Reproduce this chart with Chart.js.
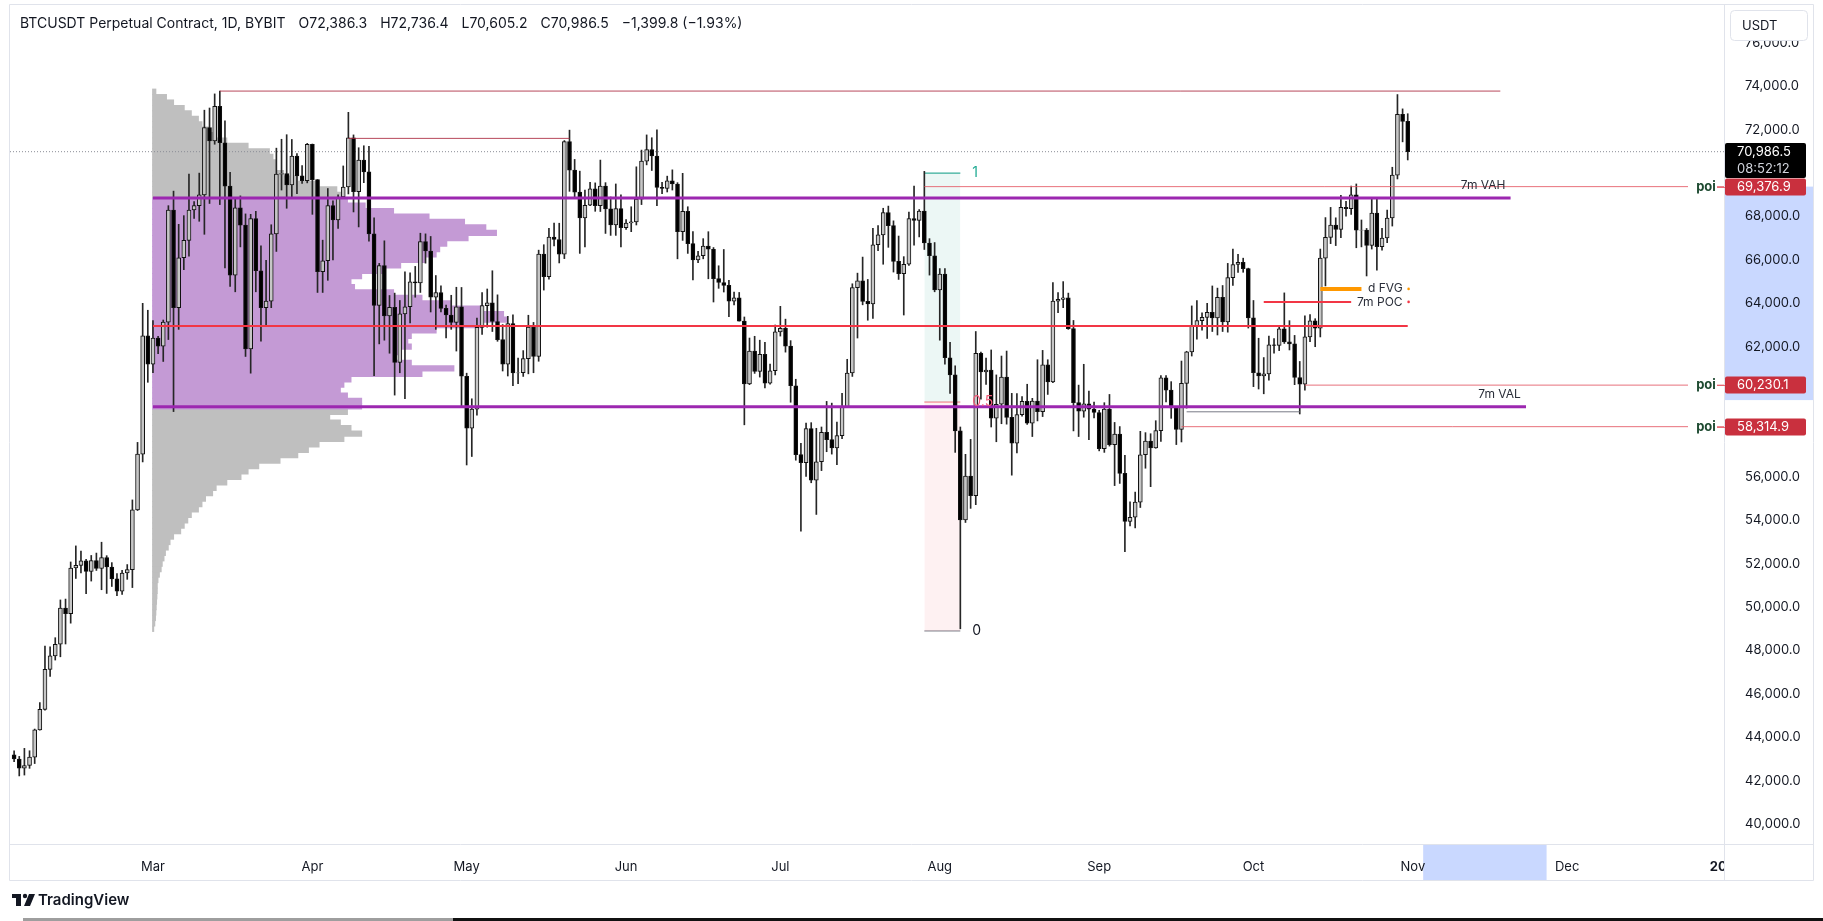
<!DOCTYPE html>
<html lang="en">
<head>
<meta charset="UTF-8" />
<title>BTCUSDT Perpetual Contract, 1D, BYBIT</title>
<script src="https://cdn.jsdelivr.net/npm/chart.js"></script>
<style>
  html, body { margin: 0; padding: 0; background: #fff; }
  canvas { display: block; }
</style>
</head>
<body>
<canvas id="btcChart" width="1823" height="921"></canvas>
<script>
// daily candles, the first one is 2024-02-03 (one row per month)
const firstCandle = '2024-02-03';
const opens = [
  43190,43000,42580,42700,43090,44340,45290,47130,47750,48290,49960,49700,51800,51920,52130,51640,52140,51780,52280,51850,51300,50740,51570,51730,54480,57050,62500,
  61200,62400,62030,63130,68300,63800,66100,66900,68300,68500,69000,72100,71480,73080,71400,69400,65300,68400,67600,61900,67900,65500,63800,64100,67200,69950,69980,69450,70780,69870,69650,
  71330,69700,65460,65960,68500,67840,68900,69360,71620,69140,70600,70060,67200,63900,65740,63420,63810,61280,63510,63840,64990,64940,66840,66410,64280,64500,63770,63460,63120,63840,
  60640,58250,59120,62890,63890,64020,63160,62330,61190,63070,60790,60800,61450,62900,61550,66270,65230,67050,66940,66270,71450,70140,69120,67930,68520,69280,68500,69400,68350,67610,68360,
  67490,67700,67750,68800,70550,71080,70790,69340,69300,69640,69500,67300,68240,66750,66000,66190,66640,66490,65140,64960,64830,64100,64250,63180,60280,61800,60860,61650,60320,60890,
  62680,62850,62030,60200,57030,56660,58230,55850,56700,58050,57720,57340,57900,59230,60790,64720,65040,64090,63970,66700,67150,68180,67580,65930,65370,65800,67910,67820,68250,66780,66190,
  64620,65350,61490,60700,58120,54020,56040,55130,61690,60840,60920,58710,59350,60600,58740,57560,58870,59480,58480,59490,59010,61160,60380,64100,64180,64250,62830,59420,59030,59370,59120,
  58970,57300,59130,57480,57970,56160,53950,54140,54840,57020,57650,57340,58130,60570,60000,59180,58190,60310,61760,62950,63200,63350,63580,63330,64270,63140,65180,65790,65890,65600,
  63330,60800,60650,60750,62090,62060,62820,62220,62130,60580,60270,62450,63190,62850,66080,67040,67610,67400,68420,68360,69000,67370,67380,66670,68160,66610,67010,67930,69910,72710,72386.3
];
const highs = [
  43380,43120,43490,43380,44380,45600,48200,48170,48590,50330,50370,52080,52820,52580,52200,52380,52490,52990,52370,52050,51550,51700,51960,54940,57590,64000,63680,
  63200,62480,63230,68500,69170,67640,68040,69960,68690,70000,72900,73000,73650,73780,72410,70040,68880,68950,68120,68100,68240,66650,65980,67620,71150,71560,71770,71550,70900,70350,71370,
  71340,69700,66910,69290,68720,69000,70330,72800,71760,71170,71260,71230,67940,65840,66880,64360,64470,64130,65450,65400,65700,67230,67200,67080,65280,64800,63920,64370,64740,64730,
  60780,59600,63320,64500,64660,65500,64390,63020,63400,63470,61480,61820,63450,63120,66450,66700,67450,67700,67690,71500,71980,70630,70090,69220,69580,69550,70600,69560,68900,69500,69000,
  67860,68450,70290,71060,71760,71630,72000,69580,69860,70150,69560,69990,68450,67300,66400,66980,67300,66570,65730,66480,65060,64520,64500,63370,62400,62480,62300,62200,61200,63000,
  63860,63270,62280,60500,57550,58480,58500,58240,58300,59480,59400,58530,59850,61420,64900,65390,66130,65100,67450,67580,68380,68480,67800,67100,66150,68200,69400,68320,70080,66980,66800,
  65600,65600,62200,61120,58300,57040,57730,62700,61750,61480,61850,60700,61570,61800,59850,59840,59700,60270,59620,61400,61830,61400,64950,64500,65000,64470,63210,60230,61190,59950,59450,
  59070,59420,59800,58510,58320,56990,54850,55300,58100,58040,57990,58590,60670,60670,60390,59210,61340,61790,63880,64130,63560,64000,64800,64700,64820,65840,66500,66260,66080,65620,
  64130,62390,61500,62490,62370,62980,64480,63200,62520,61320,63420,63480,63290,66500,67950,68420,67940,68980,68700,69400,69500,67840,67450,68850,68800,67450,68300,70270,73620,72960,72736.4
];
const lows = [
  42880,42220,42260,42570,42790,44330,45250,46800,47560,47710,48300,49260,51320,51570,50620,51200,51690,50800,50630,50950,50530,50580,51280,50900,54450,56690,60360,
  60800,61680,61320,62330,59010,62800,65550,66170,67910,67780,67180,68600,71330,68550,65630,64780,64530,66600,61550,60780,64530,62260,63000,63800,66390,69220,68380,68900,69050,69520,69550,
  68100,64500,64500,65060,66000,67450,68830,69040,68210,67520,69560,66860,60660,62130,62300,61700,59770,60800,59600,63100,64280,64500,65850,63600,62800,63600,62400,62800,61800,59190,
  56550,56940,58850,62570,62900,62700,62250,60880,60650,60200,60300,60630,60750,60800,61330,64610,65110,66650,65860,66060,69160,68900,66300,66600,68500,68240,68230,67220,67130,67130,66600,
  67400,67300,67610,68550,70380,70120,68500,69050,69130,69220,66050,66900,66300,65080,65870,66050,65130,64060,64690,64520,63380,63920,63180,58400,60250,60770,60600,60100,60270,60700,
  62490,61750,59440,56770,53500,56020,55730,54270,56290,57160,57050,56560,57760,59200,60630,62400,63930,63220,63300,66430,65800,66580,65440,65100,63460,65750,66680,67060,66480,65300,64530,
  62300,61200,59850,57130,49000,53900,54550,54720,59580,60260,58300,57620,58450,58430,56080,57100,58800,58420,57860,58580,58780,59800,60340,63570,63800,62800,58120,57860,58750,57720,58720,
  57200,57130,57420,55600,55700,52550,53740,53650,54590,56400,55550,57320,57630,59450,58700,57490,57610,59170,61570,62350,62760,62380,62700,62540,62700,62670,64830,65420,65430,62860,
  60160,60050,59830,60460,61700,61820,62150,61850,60250,58900,60000,62230,62000,62450,64800,66750,66660,67030,68020,68100,66560,66600,65260,66500,65530,66450,66800,67560,69730,71440,70605.2
];
const closes = [
  43000,42580,42700,43090,44340,45290,47130,47750,48290,49960,49700,51800,51920,52130,51640,52140,51780,52280,51850,51300,50740,51570,51730,54480,57050,62500,61200,
  62400,62030,63130,68300,63800,66100,66900,68300,68500,69000,72100,71480,73080,71400,69400,65300,68400,67600,61900,67900,65500,63800,64100,67200,69950,69980,69450,70780,69870,69650,71330,
  69700,65460,65960,68500,67840,68900,69360,71620,69140,70600,70060,67200,63900,65740,63420,63810,61280,63510,63840,64990,64940,66840,66410,64280,64500,63770,63460,63120,63840,60640,
  58250,59120,62890,63890,64020,63160,62330,61190,63070,60790,60800,61450,62900,61550,66270,65230,67050,66940,66270,71450,70140,69120,67930,68520,69280,68500,69400,68350,67610,68360,67490,
  67700,67750,68800,70550,71080,70790,69340,69300,69640,69500,67300,68240,66750,66000,66190,66640,66490,65140,64960,64830,64100,64250,63180,60280,61800,60860,61650,60320,60890,62680,
  62850,62030,60200,57030,56660,58230,55850,56700,58050,57720,57340,57900,59230,60790,64720,65040,64090,63970,66700,67150,68180,67580,65930,65370,65800,67910,67820,68250,66780,66190,64620,
  65350,61490,60700,58120,54020,56040,55130,61690,60840,60920,58710,59350,60600,58740,57560,58870,59480,58480,59490,59010,61160,60380,64100,64180,64250,62830,59420,59030,59370,59120,58970,
  57300,59130,57480,57970,56160,53950,54140,54840,57020,57650,57340,58130,60570,60000,59180,58190,60310,61760,62950,63200,63350,63580,63330,64270,63140,65180,65790,65890,65600,63330,
  60800,60650,60750,62090,62060,62820,62220,62130,60580,60270,62450,63190,62850,66080,67040,67610,67400,68420,68360,69000,67370,67380,66670,68160,66610,67010,67930,69910,72710,72386.3,70986.5
];

// time axis
const monthDates = ['2024-03-01','2024-04-01','2024-05-01','2024-06-01','2024-07-01','2024-08-01','2024-09-01','2024-10-01','2024-11-01','2024-12-01','2025-01-01'];
const monthLabels = ['Mar','Apr','May','Jun','Jul','Aug','Sep','Oct','Nov','Dec','2025'];
const priceTicks = [40000,42000,44000,46000,48000,50000,52000,54000,56000,58000,60000,62000,64000,66000,68000,70000,72000,74000,76000];

// fixed range volume profile, anchored on 2024-03-01 (relative volume per 250 USD row)
const profileStart = '2024-03-01';
const profilePrices = [
  49000,49250,49500,49750,50000,50250,50500,50750,51000,51250,51500,51750,52000,52250,52500,52750,53000,53250,53500,53750,
  54000,54250,54500,54750,55000,55250,55500,55750,56000,56250,56500,56750,57000,57250,57500,57750,58000,58250,58500,58750,
  59000,59250,59500,59750,60000,60250,60500,60750,61000,61250,61500,61750,62000,62250,62500,62750,63000,63250,63500,63750,
  64000,64250,64500,64750,65000,65250,65500,65750,66000,66250,66500,66750,67000,67250,67500,67750,68000,68250,68500,68750,
  69000,69250,69500,69750,70000,70250,70500,70750,71000,71250,71500,71750,72000,72250,72500,72750,73000,73250,73500,73750
];
const profileVolumes = [
  0.4,0.7,0.9,1.0,1.1,1.2,1.3,1.4,1.4,1.6,2.0,2.5,2.8,3.3,3.7,4.5,5,6,8,9,
  10,11,13,14,15,17,18,21,25,27,30,36,41,44,47,54,59,56,53,50,
  55,59,59,55,53,54,56,76,85,73,68,70,73,72,73,80,93,100,99,93,
  84,76,68,57,56,59,65,70,77,80,81,83,89,97,94,88,78,68,60,55,
  54,52,47,41,37,35,35,34,33,27,21,17,16,14,13,11,9,6,4,1
];
const valueArea = { high: 68850, poc: 62950, low: 59230, from: '2024-03-01', highTo: '2024-11-20', pocTo: '2024-10-31', lowTo: '2024-11-23' };

const currentPrice = 70986.5;
const barCountdown = '08:52:12';
const headerParts = ['BTCUSDT Perpetual Contract, 1D, BYBIT', 'O72,386.3', 'H72,736.4', 'L70,605.2', 'C70,986.5', '\u22121,399.8 (\u22121.93%)'];

// points of interest
const poiPrices = [69376.9, 60230.1, 58314.9];
const poiFrom = ['2024-07-29', '2024-10-11', '2024-09-17'];
const poiNotes = ['7m VAH', '7m VAL', ''];
const poiNoteAt = ['2024-11-19', '2024-11-22', ''];

// swing highs, sweep low, short levels
const swingPrices = [73780, 71600];
const swingFrom = ['2024-03-14', '2024-04-08'];
const swingTo = ['2024-11-18', '2024-05-21'];
const sweepLevel = { price: 59000, from: '2024-09-18', to: '2024-10-10' };
const pocLevel = { price: 64065, from: '2024-10-03', to: '2024-10-20', label: '7m POC' };
const fvgLevel = { price: 64665, from: '2024-10-14', to: '2024-10-22', label: 'd FVG' };
const levelLabelAt = '2024-10-30';

// fib retracement Jul 29 high -> Aug 5 low
const fibLevels = [70000, 59450, 48900];
const fibLabels = ['1', '0.5', '0'];
const fibDates = ['2024-07-29', '2024-08-05'];

// selected range shown on the axes
const selectionPrices = [69376.9, 59540];
const selectionDates = ['2024-11-03', '2024-11-27'];

// ---------------------------------------------------------------
const dayOf = s => (Date.parse(s) - Date.parse('2024-03-01')) / 864e5;
const day0 = dayOf(firstCandle);
const days = opens.map((_, i) => day0 + i);
const isUp = closes.map((c, i) => c >= opens[i]);
const monthDays = monthDates.map(dayOf);
const daysPerUnit = 0.69;
const FONT = 'Inter, "Noto Sans", sans-serif';

Chart.defaults.font.family = FONT;

function hLine(price, from, to, color, width, extra) {
  return Object.assign({
    type: 'line',
    data: [{ x: from, y: price }, { x: to, y: price }],
    borderColor: color, borderWidth: width, pointRadius: 0, fill: false, order: 0
  }, extra || {});
}

const xMin = -27.8, xMax = 305.5;
const datasets = [
  // fib fills, drawn first
  hLine(fibLevels[0], dayOf(fibDates[0]), dayOf(fibDates[1]), '#089981', 1, { fill: '+1', backgroundColor: 'rgba(8,153,129,0.08)', order: 5 }),
  hLine(fibLevels[1], dayOf(fibDates[0]), dayOf(fibDates[1]), 'rgba(242,54,69,0.7)', 1, { fill: '+1', backgroundColor: 'rgba(242,54,69,0.07)', order: 5 }),
  hLine(fibLevels[2], dayOf(fibDates[0]), dayOf(fibDates[1]), '#787b86', 1, { order: 5 }),
  {
    type: 'bar', label: 'profile', indexAxis: 'y',
    data: profilePrices.map((p, i) => ({ y: p, x: [dayOf(profileStart) - 0.1, dayOf(profileStart) - 0.1 + profileVolumes[i] * daysPerUnit] })),
    backgroundColor: profilePrices.map(p => (p >= valueArea.low && p <= valueArea.high) ? '#c49ad5' : '#bfbfbf'),
    borderWidth: 0, barThickness: 5.6, grouped: false, order: 4
  },
  hLine(currentPrice, xMin, xMax, '#8a8d96', 1, { borderDash: [1, 2], order: 3 }),
  {
    type: 'bar', label: 'wicks',
    data: days.map((d, i) => ({ x: d, y: [lows[i], highs[i]] })),
    backgroundColor: '#262626', barThickness: 1, grouped: false, order: 2
  },
  {
    type: 'bar', label: 'bodies',
    data: days.map((d, i) => ({ x: d, y: [opens[i], closes[i]] })),
    backgroundColor: isUp.map(u => u ? '#c6c6c6' : '#000'),
    borderColor: '#111', borderWidth: 1, borderSkipped: false, barThickness: 4, grouped: false, order: 1
  },
  hLine(valueArea.high, dayOf(valueArea.from), dayOf(valueArea.highTo), '#9c27b0', 3),
  hLine(valueArea.low, dayOf(valueArea.from), dayOf(valueArea.lowTo), '#9c27b0', 3),
  hLine(valueArea.poc, dayOf(valueArea.from), dayOf(valueArea.pocTo), '#f23645', 2),
  ...swingPrices.map((p, i) => hLine(p, dayOf(swingFrom[i]), dayOf(swingTo[i]), 'rgba(170,40,62,0.85)', 1)),
  ...poiPrices.map((p, i) => hLine(p, dayOf(poiFrom[i]), xMax, 'rgba(228,88,100,0.85)', 1)),
  hLine(sweepLevel.price, dayOf(sweepLevel.from), dayOf(sweepLevel.to), '#787b86', 1),
  hLine(pocLevel.price, dayOf(pocLevel.from), dayOf(pocLevel.to), '#f23645', 2),
  hLine(fvgLevel.price, dayOf(fvgLevel.from), dayOf(fvgLevel.to), '#ff9800', 4)
];

function text(ctx, s, x, y, font, color, align) {
  ctx.font = font;
  ctx.fillStyle = color;
  ctx.textAlign = align || 'left';
  ctx.textBaseline = 'middle';
  ctx.fillText(s, x, y);
  return ctx.measureText(s).width;
}

const overlay = {
  id: 'overlay',
  beforeDraw(chart) {
    const { ctx, chartArea: a, scales: { x, y } } = chart;
    ctx.save();
    ctx.fillStyle = '#fff';
    ctx.fillRect(0, 0, chart.width, chart.height);
    ctx.fillStyle = 'rgba(41, 98, 255, 0.25)';
    const y1 = y.getPixelForValue(selectionPrices[0]), y2 = y.getPixelForValue(selectionPrices[1]);
    ctx.fillRect(a.right + 1, y1, 89, y2 - y1);
    const x1 = x.getPixelForValue(dayOf(selectionDates[0])), x2 = x.getPixelForValue(dayOf(selectionDates[1]));
    ctx.fillRect(x1, a.bottom + 1, x2 - x1, 35);
    ctx.restore();
  },
  afterDraw(chart) {
    const { ctx, chartArea: a, scales: { x, y } } = chart;
    ctx.save();
    // clip the time axis at the price scale
    ctx.fillStyle = '#fff';
    ctx.fillRect(a.right + 1, a.bottom + 1, chart.width - a.right, 35);

    // frame
    ctx.strokeStyle = '#e0e3eb';
    ctx.lineWidth = 1;
    ctx.beginPath();
    ctx.moveTo(9.5, 4.5); ctx.lineTo(1813.5, 4.5);
    ctx.moveTo(9.5, 4.5); ctx.lineTo(9.5, 880.5);
    ctx.moveTo(9.5, a.bottom + 0.5); ctx.lineTo(1813.5, a.bottom + 0.5);
    ctx.moveTo(9.5, 880.5); ctx.lineTo(1813.5, 880.5);
    ctx.moveTo(a.right + 0.5, 4.5); ctx.lineTo(a.right + 0.5, 880.5);
    ctx.moveTo(1813.5, 4.5); ctx.lineTo(1813.5, 880.5);
    ctx.stroke();

    // header
    let hx = 20;
    headerParts.forEach(s => { hx += text(ctx, s, hx, 24, '14px ' + FONT, '#131722') + 13; });

    // USDT button
    ctx.fillStyle = '#fff';
    ctx.strokeStyle = '#e0e3eb';
    ctx.beginPath();
    ctx.roundRect(1730.5, 10.5, 77, 30, 4);
    ctx.fill(); ctx.stroke();
    text(ctx, 'USDT', 1742, 26, '13px ' + FONT, '#131722');

    // fib labels
    const fx = x.getPixelForValue(dayOf(fibDates[1])) + 12;
    const fibColors = ['#22ab94', '#f25c7a', '#131722'];
    fibLevels.forEach((p, i) => text(ctx, fibLabels[i], fx, y.getPixelForValue(p), '14px ' + FONT, fibColors[i]));

    // level notes
    poiNotes.forEach((s, i) => {
      if (!s) return;
      const py = y.getPixelForValue(poiPrices[i]);
      text(ctx, s, x.getPixelForValue(dayOf(poiNoteAt[i])), i === 0 ? py - 1 : py + 9, '12px ' + FONT, '#2a2e39', 'right');
    });
    const lx = x.getPixelForValue(dayOf(levelLabelAt));
    [[pocLevel, '#f23645'], [fvgLevel, '#ff9800']].forEach(([lv, c]) => {
      const py = y.getPixelForValue(lv.price);
      text(ctx, lv.label, lx, py, '12px ' + FONT, '#2a2e39', 'right');
      ctx.fillStyle = c;
      ctx.beginPath(); ctx.arc(lx + 6, py, 1.3, 0, Math.PI * 2); ctx.fill();
    });

    // poi tags
    poiPrices.forEach(p => {
      const py = Math.round(y.getPixelForValue(p));
      ctx.fillStyle = '#fff';
      ctx.fillRect(a.right - 36, py - 7, 29, 14);
      text(ctx, 'poi', a.right - 18, py, 'bold 13px ' + FONT, '#1d4a30', 'center');
      ctx.fillStyle = 'rgba(228,88,100,0.85)';
      ctx.fillRect(a.right - 7, py, 8, 1);
      ctx.fillStyle = '#c9303e';
      ctx.beginPath();
      ctx.roundRect(a.right + 1, py - 8.5, 81, 17, 2);
      ctx.fill();
      text(ctx, p.toLocaleString('en-US', { minimumFractionDigits: 1 }), a.right + 13, py + 0.5, '13px ' + FONT, '#fff');
    });

    // last price tag with countdown
    const cy = Math.round(y.getPixelForValue(currentPrice));
    ctx.fillStyle = '#000';
    ctx.beginPath();
    ctx.roundRect(a.right + 1, cy - 9, 81, 35, 2);
    ctx.fill();
    text(ctx, currentPrice.toLocaleString('en-US', { minimumFractionDigits: 1 }), a.right + 13, cy, '13px ' + FONT, '#fff');
    text(ctx, barCountdown, a.right + 13, cy + 17, '13px ' + FONT, '#d1d4dc');

    // TradingView logo
    ctx.fillStyle = '#131722';
    ctx.fillRect(12, 894, 9, 4);
    ctx.fillRect(16, 894, 5, 12);
    ctx.beginPath(); ctx.arc(25, 896, 2.2, 0, Math.PI * 2); ctx.fill();
    ctx.beginPath();
    ctx.moveTo(29, 894); ctx.lineTo(35, 894); ctx.lineTo(30, 906); ctx.lineTo(24, 906); ctx.closePath(); ctx.fill();
    text(ctx, 'TradingView', 38, 900, '600 15px ' + FONT, '#131722');

    // screen edge
    ctx.fillStyle = '#9e9e9e';
    ctx.fillRect(23, 918, 430, 3);
    ctx.fillStyle = '#111';
    ctx.fillRect(453, 918, 1370, 3);
    ctx.restore();
  }
};

new Chart(document.getElementById('btcChart'), {
  type: 'bar',
  data: { datasets },
  options: {
    responsive: false,
    animation: false,
    events: [],
    layout: { padding: { left: 10, top: 5, right: 0, bottom: 0 } },
    plugins: { legend: { display: false }, tooltip: { enabled: false } },
    scales: {
      x: {
        type: 'linear', min: xMin, max: xMax, offset: false, grace: 0,
        grid: { display: false, offset: false }, border: { display: false },
        afterBuildTicks: s => { s.ticks = monthDays.map(v => ({ value: v })); },
        afterFit: s => { s.height = 77; s.paddingLeft = 0; s.paddingRight = 0; },
        ticks: {
          autoSkip: false, maxRotation: 0, padding: 7, color: '#131722',
          font: c => ({ size: 13, weight: (c.tick && c.tick.value === monthDays[monthDays.length - 1]) ? 'bold' : 'normal' }),
          callback: v => monthLabels[monthDays.indexOf(v)]
        }
      },
      y: {
        type: 'linear', position: 'right', min: 39083, max: 77747, offset: false, grace: 0,
        grid: { display: false, offset: false }, border: { display: false },
        afterBuildTicks: s => { s.ticks = priceTicks.map(v => ({ value: v })); },
        afterFit: s => { s.width = 99; s.paddingTop = 0; s.paddingBottom = 0; },
        ticks: {
          padding: 13, color: '#131722', font: { size: 13 },
          callback: v => {
            if (v - currentPrice > -1300 && v - currentPrice < 500) return '';
            if (poiPrices.some(p => Math.abs(p - v) < 650)) return '';
            return v.toLocaleString('en-US', { minimumFractionDigits: 1 });
          }
        }
      }
    }
  },
  plugins: [overlay]
});
</script>
</body>
</html>
